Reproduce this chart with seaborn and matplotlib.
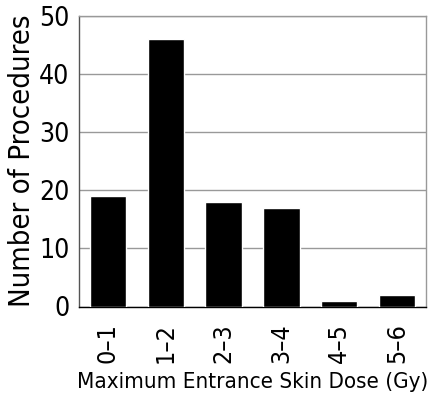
import matplotlib
matplotlib.use("Agg")
import seaborn as sns
from matplotlib import pyplot as plt

dose_bins = ["0–1", "1–2", "2–3", "3–4", "4–5", "5–6"]
procedures = [19, 46, 18, 17, 1, 2]

sns.set_style("white")
plt.rcParams["font.family"] = ["DejaVu Sans"]
plt.rcParams["font.stretch"] = "condensed"
plt.rcParams["text.color"] = "black"
plt.rcParams["axes.labelcolor"] = "black"
plt.rcParams["xtick.color"] = "black"
plt.rcParams["ytick.color"] = "black"

fig = plt.figure(figsize=(4.4, 4.07), dpi=100)
ax = fig.add_axes([79 / 440, 1 - 306.5 / 407, 347 / 440, 291 / 407])

sns.barplot(x=dose_bins, y=procedures, color="black", width=0.63,
            saturation=1, ax=ax, zorder=3)

ax.set_ylim(0, 50)
ax.set_xlim(-0.5, 5.5)
ax.set_yticks(range(0, 51, 10))
ax.yaxis.grid(True, color="#999999", linewidth=1, zorder=0)
ax.set_axisbelow(True)

for side in ["top", "right"]:
    ax.spines[side].set_color("#999999")
ax.spines["left"].set_color("#555555")
ax.spines["bottom"].set_color("black")
for s in ax.spines.values():
    s.set_linewidth(1)

ax.tick_params(axis="y", direction="out", length=5, width=1, labelsize=19, pad=2)
ax.set_xticks(range(6))
ax.set_xticklabels(dose_bins)
ax.tick_params(axis="x", which="major", length=0, labelsize=18, pad=12, labelrotation=90)
ax.set_xticks([i + 0.5 for i in range(-1, 6)], minor=True)
ax.tick_params(axis="x", which="minor", direction="in", length=5, width=1)

ax.set_xlabel("Maximum Entrance Skin Dose (Gy)", fontsize=16, labelpad=6)
ax.set_ylabel("Number of Procedures", fontsize=21, labelpad=2)

fig.savefig("out.png", dpi=100)
